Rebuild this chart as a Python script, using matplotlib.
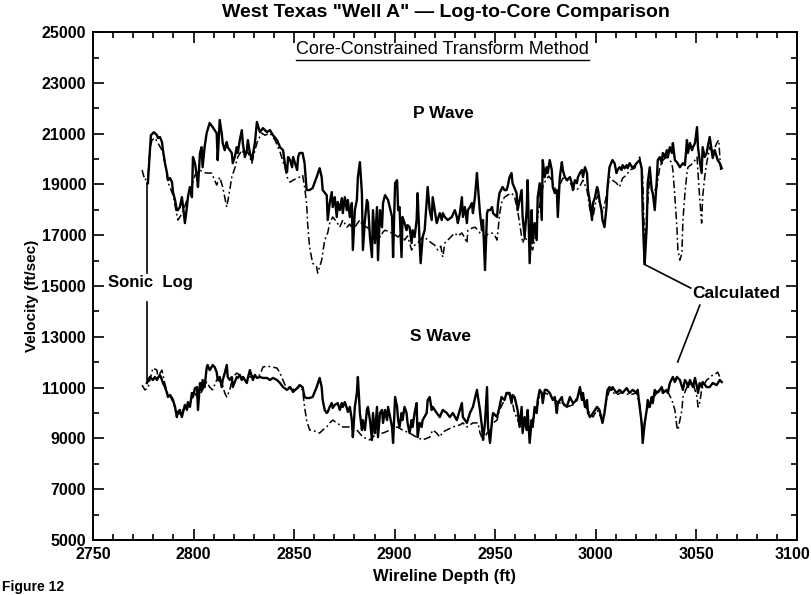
import matplotlib
matplotlib.use('Agg')
import matplotlib.pyplot as plt
import matplotlib.transforms as mtransforms
from matplotlib.ticker import MultipleLocator
from matplotlib.lines import Line2D

plt.rcParams['font.family'] = ['Liberation Sans', 'DejaVu Sans']
plt.rcParams['font.weight'] = 'bold'

# P wave, sonic log (depth ft, velocity ft/sec)
p_sonic_depth = [2777.3, 2778.8, 2780.3, 2781.8, 2782.3, 2783.3, 2784.3, 2784.8, 2785.8, 2786.8,
                 2787.3, 2788.3, 2789.3, 2789.8, 2790.8, 2791.7, 2792.2, 2793.2, 2794.2, 2794.7,
                 2795.7, 2796.7, 2797.2, 2798.2, 2799.2, 2799.7, 2800.7, 2801.7, 2802.2, 2803.2,
                 2804.0, 2804.5, 2805.5, 2806.5, 2808.0, 2809.5, 2811.5, 2812.0, 2813.0, 2814.0,
                 2814.5, 2815.5, 2816.5, 2817.0, 2819.0, 2819.5, 2820.5, 2821.5, 2822.0, 2823.0,
                 2824.0, 2824.5, 2825.5, 2826.5, 2827.0, 2828.0, 2829.0, 2830.5, 2831.5, 2833.0,
                 2834.5, 2836.5, 2838.0, 2839.5, 2841.5, 2843.0, 2844.5, 2845.5, 2846.5, 2847.0,
                 2848.0, 2849.0, 2849.5, 2851.5, 2852.0, 2852.7, 2854.2, 2855.2, 2856.2, 2857.7,
                 2859.2, 2861.2, 2862.7, 2863.7, 2864.2, 2866.2, 2866.7, 2867.7, 2868.7, 2869.2,
                 2870.2, 2871.2, 2871.7, 2872.7, 2873.7, 2874.2, 2875.2, 2876.2, 2876.7, 2877.7,
                 2878.7, 2879.2, 2880.2, 2881.2, 2881.7, 2882.7, 2883.7, 2884.2, 2885.2, 2886.2,
                 2886.7, 2887.7, 2888.7, 2889.2, 2890.2, 2891.2, 2891.7, 2892.7, 2893.7, 2894.2,
                 2895.2, 2896.7, 2898.7, 2899.2, 2900.2, 2901.2, 2901.7, 2902.4, 2903.4, 2903.9,
                 2904.9, 2905.9, 2906.4, 2907.4, 2908.4, 2908.9, 2909.9, 2910.9, 2911.4, 2912.4,
                 2912.9, 2913.9, 2914.9, 2916.4, 2917.4, 2918.4, 2918.9, 2919.9, 2920.9, 2922.4,
                 2923.4, 2923.9, 2924.9, 2926.4, 2928.4, 2929.9, 2930.9, 2931.4, 2932.4, 2933.4,
                 2933.9, 2934.9, 2935.9, 2936.4, 2937.4, 2938.4, 2938.9, 2939.9, 2940.9, 2941.4,
                 2942.4, 2943.4, 2943.9, 2944.9, 2945.9, 2946.4, 2947.4, 2948.4, 2948.9, 2950.9,
                 2951.4, 2952.1, 2953.6, 2954.6, 2955.6, 2956.1, 2957.1, 2958.1, 2958.6, 2960.6,
                 2961.1, 2963.1, 2963.6, 2964.6, 2965.6, 2966.1, 2967.1, 2968.1, 2968.6, 2969.6,
                 2970.6, 2971.1, 2972.1, 2973.1, 2973.6, 2974.6, 2975.6, 2976.1, 2977.1, 2978.1,
                 2978.6, 2979.6, 2980.6, 2981.1, 2982.1, 2983.1, 2983.6, 2984.6, 2985.6, 2987.1,
                 2988.1, 2988.6, 2989.6, 2990.6, 2991.1, 2992.1, 2993.1, 2993.6, 2994.6, 2995.6,
                 2996.1, 2997.1, 2998.1, 2998.6, 2999.6, 3000.6, 3001.1, 3001.8, 3002.8, 3003.3,
                 3004.3, 3005.3, 3005.8, 3006.8, 3007.8, 3008.3, 3009.3, 3010.3, 3010.8, 3011.8,
                 3012.8, 3013.3, 3014.3, 3015.3, 3015.8, 3016.8, 3018.3, 3020.3, 3021.8, 3022.8,
                 3023.3, 3023.8, 3024.3, 3025.3, 3025.8, 3026.8, 3027.8, 3028.3, 3029.3, 3030.3,
                 3030.8, 3031.8, 3032.8, 3033.3, 3034.3, 3035.3, 3035.8, 3036.8, 3037.8, 3038.3,
                 3039.3, 3040.3, 3041.8, 3043.3, 3044.3, 3045.3, 3045.8, 3046.8, 3047.8, 3048.3,
                 3049.3, 3050.3, 3050.8, 3051.6, 3052.6, 3053.1, 3054.1, 3055.1, 3055.6, 3056.6,
                 3057.6, 3058.1, 3059.1, 3060.1, 3060.6, 3061.6, 3062.6]
p_sonic_vel = [19050, 20940, 21060, 20940, 20830, 20870, 20670, 20350, 19840, 19450,
               19170, 19250, 19090, 18700, 18390, 17990, 17990, 18110, 18500, 18190,
               17480, 18110, 18500, 18900, 18500, 20080, 19840, 19290, 18900, 20240,
               20470, 19680, 20470, 21020, 21420, 21260, 21020, 19960, 21540, 21020,
               20630, 20350, 20670, 20470, 20240, 19840, 20080, 20470, 20240, 20750,
               21140, 20630, 20080, 20350, 20750, 20240, 19960, 20630, 21460, 21060,
               21220, 21060, 21140, 20940, 20750, 20470, 20350, 19760, 19490, 20080,
               19960, 19680, 20080, 19570, 20080, 20240, 20240, 19840, 18780, 18780,
               18860, 19290, 19640, 19290, 18780, 18580, 17600, 18270, 18700, 18110,
               18500, 17720, 18310, 17990, 18460, 17870, 18500, 17990, 18390, 17720,
               18270, 16420, 17990, 18390, 19290, 19880, 18660, 16420, 17600, 18390,
               18270, 16930, 16140, 17990, 16690, 18110, 16020, 17990, 17320, 18270,
               18580, 18390, 17720, 16140, 19050, 19170, 17990, 18110, 16140, 17720,
               17480, 17200, 17400, 17320, 16690, 17200, 16930, 17600, 18660, 16690,
               15900, 16930, 17200, 18900, 17990, 17600, 18500, 17990, 17480, 17870,
               17600, 17870, 17720, 17600, 17720, 17990, 17720, 17480, 17870, 18500,
               17720, 18110, 17480, 17990, 18110, 18270, 17870, 18500, 19450, 18900,
               17870, 17200, 17600, 15630, 17870, 17990, 17990, 18110, 17870, 17720,
               18270, 18660, 18900, 18780, 18780, 18900, 19290, 19450, 19050, 18660,
               17990, 18780, 17720, 16930, 17990, 19170, 15900, 17990, 16690, 17480,
               16810, 18500, 19050, 17600, 19960, 19290, 19680, 19450, 19960, 19570,
               18900, 18660, 18780, 17720, 19290, 19880, 19570, 19290, 19170, 19290,
               19050, 18780, 19170, 19050, 19290, 19450, 19570, 19290, 19680, 19450,
               18780, 18270, 17600, 18270, 18500, 18900, 18780, 18390, 17990, 17600,
               17320, 18110, 18900, 19680, 19880, 19960, 19840, 19450, 19570, 19680,
               19570, 19760, 19640, 19760, 19640, 19840, 19640, 19840, 19960, 19640,
               17870, 16690, 15900, 17320, 19050, 19680, 18780, 18660, 17990, 19170,
               19960, 20080, 19840, 20240, 20080, 20350, 20080, 20470, 20240, 20630,
               19960, 19880, 19680, 19840, 19760, 20750, 20240, 20630, 20350, 20470,
               20630, 21260, 20470, 19960, 19450, 20470, 20080, 20240, 20470, 20870,
               20350, 20040, 20350, 20080, 19960, 19840, 19640]

# P wave, calculated
p_calc_depth = [2774.4, 2775.8, 2777.3, 2778.3, 2779.3, 2780.8, 2782.3, 2784.8, 2787.3, 2789.8,
                2792.2, 2794.7, 2796.7, 2798.2, 2800.7, 2803.2, 2804.5, 2806.5, 2809.0, 2810.5,
                2811.5, 2813.0, 2814.5, 2815.5, 2816.5, 2818.0, 2819.0, 2820.5, 2822.0, 2824.0,
                2825.5, 2827.0, 2829.0, 2830.5, 2832.0, 2834.0, 2835.5, 2838.0, 2840.5, 2843.0,
                2845.5, 2846.5, 2848.0, 2849.5, 2851.5, 2852.7, 2854.2, 2855.2, 2856.2, 2856.7,
                2857.7, 2859.2, 2861.2, 2861.7, 2863.7, 2865.2, 2866.7, 2867.7, 2869.2, 2871.2,
                2872.7, 2874.2, 2876.2, 2877.7, 2879.2, 2881.2, 2882.7, 2884.2, 2886.2, 2887.7,
                2889.2, 2891.2, 2892.7, 2894.2, 2895.2, 2897.7, 2900.2, 2901.7, 2903.4, 2904.9,
                2906.4, 2908.4, 2909.9, 2911.4, 2913.4, 2914.9, 2916.4, 2918.4, 2919.9, 2921.4,
                2922.9, 2923.9, 2924.9, 2926.4, 2928.4, 2929.9, 2931.4, 2933.4, 2934.9, 2935.9,
                2936.4, 2938.4, 2939.9, 2941.4, 2942.4, 2943.9, 2944.9, 2946.4, 2948.4, 2949.9,
                2950.9, 2951.4, 2952.1, 2953.1, 2954.6, 2956.1, 2958.1, 2959.6, 2961.1, 2962.1,
                2963.6, 2964.6, 2966.1, 2967.1, 2968.6, 2970.1, 2971.1, 2972.6, 2973.6, 2975.1,
                2976.6, 2978.1, 2979.6, 2980.6, 2982.1, 2983.6, 2985.6, 2987.1, 2988.6, 2990.6,
                2992.1, 2993.6, 2995.6, 2997.1, 2998.6, 3000.1, 3001.1, 3001.8, 3003.3, 3004.3,
                3005.3, 3006.8, 3008.3, 3010.3, 3011.8, 3013.3, 3015.3, 3016.8, 3019.3, 3021.8,
                3023.3, 3024.3, 3025.3, 3026.8, 3028.3, 3030.3, 3031.8, 3033.3, 3035.3, 3036.8,
                3037.8, 3038.3, 3039.3, 3040.3, 3040.8, 3041.8, 3042.8, 3043.3, 3044.3, 3045.3,
                3045.8, 3048.3, 3050.3, 3050.8, 3051.6, 3052.6, 3053.1, 3054.1, 3055.1, 3056.6,
                3058.1, 3060.1, 3061.1, 3062.1]
p_calc_vel = [19570, 19170, 19290, 20350, 20750, 20830, 20630, 20280, 19090, 18580,
              17600, 17910, 18390, 18700, 19370, 19570, 19490, 19450, 19450, 19170,
              18980, 19290, 18900, 18500, 18110, 18780, 19290, 19640, 20080, 20350,
              20160, 20280, 19840, 20350, 20750, 21020, 20940, 21020, 20750, 20280,
              19640, 19290, 19090, 19170, 19250, 19290, 19370, 18900, 18270, 17480,
              16530, 15900, 15750, 15510, 16020, 16810, 17090, 17480, 17720, 17520,
              17320, 17600, 17320, 17440, 17200, 17440, 17600, 17360, 17320, 17200,
              17090, 17280, 16930, 17130, 17200, 17130, 17010, 16930, 17090, 16810,
              16970, 16420, 16610, 16690, 16890, 16930, 16810, 16690, 16610, 16420,
              16570, 16140, 16690, 16810, 16970, 17090, 16970, 17090, 16890, 16690,
              17200, 17280, 17320, 17200, 17090, 17010, 16930, 17050, 17090, 16970,
              16810, 17200, 17800, 18270, 18500, 18580, 18660, 18500, 17990, 17480,
              16690, 16890, 16810, 16610, 16420, 17010, 17800, 18390, 18900, 19170,
              19330, 19170, 18860, 18660, 18980, 19250, 19170, 19090, 18860, 18780,
              18940, 19170, 18780, 17990, 17720, 18390, 18580, 18270, 17910, 18190,
              18580, 19290, 19170, 19050, 18900, 19250, 19370, 19570, 19640, 20080,
              19290, 16420, 17800, 19290, 18660, 18900, 19680, 19960, 20080, 19960,
              19840, 19570, 18500, 17320, 16420, 16020, 16300, 17600, 18660, 19450,
              19680, 19840, 20080, 19450, 18500, 17480, 18500, 19290, 19840, 20470,
              20240, 20630, 20750, 19570]

# S wave, sonic log
s_sonic_depth = [2776.8, 2778.3, 2779.8, 2780.8, 2781.8, 2782.3, 2783.3, 2784.3, 2784.8, 2785.8,
                 2786.8, 2787.3, 2788.3, 2789.3, 2789.8, 2790.8, 2791.7, 2792.2, 2793.2, 2794.2,
                 2794.7, 2795.7, 2796.7, 2797.2, 2798.2, 2799.2, 2799.7, 2800.7, 2801.7, 2802.2,
                 2803.2, 2804.0, 2804.5, 2805.5, 2806.5, 2807.0, 2808.0, 2809.0, 2809.5, 2810.5,
                 2811.5, 2812.0, 2813.0, 2814.0, 2814.5, 2815.5, 2816.5, 2817.0, 2818.0, 2819.0,
                 2819.5, 2820.5, 2821.5, 2822.0, 2823.0, 2824.0, 2824.5, 2826.5, 2827.0, 2828.0,
                 2829.0, 2829.5, 2830.5, 2831.5, 2833.0, 2834.5, 2836.5, 2838.0, 2839.5, 2841.5,
                 2843.0, 2844.5, 2846.5, 2848.0, 2849.5, 2851.5, 2852.7, 2854.2, 2855.2, 2856.2,
                 2857.7, 2859.2, 2861.2, 2862.7, 2863.7, 2864.2, 2865.2, 2866.2, 2866.7, 2867.7,
                 2868.7, 2869.2, 2870.2, 2871.7, 2872.7, 2873.7, 2874.2, 2875.2, 2876.2, 2876.7,
                 2877.7, 2878.7, 2879.2, 2880.2, 2881.2, 2881.7, 2882.7, 2883.7, 2884.2, 2885.2,
                 2886.2, 2886.7, 2887.7, 2888.7, 2889.2, 2890.2, 2891.2, 2891.7, 2892.7, 2893.7,
                 2894.2, 2895.2, 2896.2, 2896.7, 2897.7, 2898.7, 2899.2, 2900.2, 2901.2, 2901.7,
                 2902.4, 2903.4, 2903.9, 2904.9, 2905.9, 2906.4, 2907.4, 2908.4, 2908.9, 2909.9,
                 2910.9, 2911.4, 2912.4, 2913.4, 2913.9, 2915.9, 2916.4, 2917.4, 2918.4, 2918.9,
                 2920.9, 2922.4, 2923.9, 2925.9, 2927.4, 2928.9, 2930.9, 2932.4, 2933.4, 2933.9,
                 2935.9, 2937.4, 2938.9, 2940.9, 2941.4, 2942.4, 2943.4, 2943.9, 2944.9, 2945.9,
                 2946.4, 2947.4, 2948.4, 2948.9, 2950.9, 2952.1, 2953.1, 2954.6, 2955.6, 2957.1,
                 2958.1, 2958.6, 2959.6, 2961.1, 2962.1, 2963.1, 2963.6, 2964.6, 2965.6, 2966.1,
                 2967.1, 2968.1, 2968.6, 2969.6, 2970.6, 2971.1, 2972.1, 2973.1, 2973.6, 2974.6,
                 2975.6, 2977.1, 2978.6, 2979.6, 2980.6, 2981.1, 2982.1, 2983.1, 2983.6, 2985.6,
                 2987.1, 2988.6, 2990.6, 2992.1, 2993.1, 2993.6, 2994.6, 2995.6, 2996.1, 2997.1,
                 2998.6, 3000.6, 3001.8, 3003.3, 3004.3, 3005.3, 3005.8, 3006.8, 3007.8, 3008.3,
                 3010.3, 3011.8, 3013.3, 3015.3, 3016.8, 3018.3, 3020.3, 3020.8, 3021.8, 3022.8,
                 3023.3, 3024.3, 3025.3, 3025.8, 3026.8, 3027.8, 3028.3, 3029.3, 3030.3, 3031.8,
                 3032.8, 3033.3, 3035.3, 3035.8, 3036.8, 3038.3, 3039.3, 3040.3, 3041.8, 3043.3,
                 3044.3, 3045.3, 3045.8, 3046.8, 3048.3, 3049.3, 3050.3, 3050.8, 3051.6, 3052.6,
                 3053.1, 3055.1, 3056.6, 3058.1, 3060.1, 3061.6, 3062.6]
s_sonic_vel = [11180, 11420, 11300, 11420, 11300, 11380, 11500, 11300, 11180, 11020,
               10790, 10630, 10710, 10590, 10510, 10240, 9840, 10040, 10120, 9840,
               10000, 10320, 10120, 10430, 10240, 10790, 10630, 10980, 11020, 10120,
               11180, 10910, 11300, 11020, 11770, 11890, 11690, 11810, 11890, 11810,
               11610, 11300, 11420, 11020, 11300, 11570, 11890, 11420, 11300, 11420,
               11020, 11220, 11420, 11380, 11500, 11300, 11420, 11180, 11380, 11690,
               11420, 11300, 11500, 11380, 11420, 11380, 11380, 11300, 11380, 11300,
               11180, 11020, 10910, 11020, 10830, 10980, 11100, 11020, 10630, 10590,
               10590, 10630, 11020, 11380, 11020, 10510, 10120, 10000, 10040, 10240,
               10390, 10200, 10320, 10390, 10120, 10390, 10240, 10430, 10200, 10040,
               10240, 9720, 9050, 10240, 10790, 11420, 10000, 9330, 9720, 9330,
               10120, 10240, 9720, 8940, 10000, 9210, 10240, 9050, 10000, 10120,
               9610, 10120, 9720, 10240, 9840, 9450, 8820, 10630, 10240, 9720,
               9450, 10000, 9720, 10240, 10000, 9610, 9210, 9720, 9450, 10000,
               10390, 9050, 9610, 9450, 9720, 10000, 10510, 10630, 10120, 10240,
               10000, 9840, 10120, 10000, 9840, 10000, 9720, 10120, 10390, 9840,
               9610, 10000, 10240, 10910, 10630, 10120, 9450, 8940, 9610, 11020,
               9450, 8820, 9720, 10000, 9840, 10240, 10630, 10510, 10790, 10790,
               10390, 10710, 10630, 10120, 9450, 10240, 9210, 9840, 9330, 10120,
               8820, 9720, 9450, 10240, 10000, 10510, 10910, 10790, 10390, 10910,
               10910, 10790, 10510, 10630, 10000, 10390, 10510, 10630, 10390, 10240,
               10630, 10390, 10510, 11020, 10510, 10790, 10240, 10510, 10000, 9840,
               10000, 10240, 10120, 9610, 10000, 10630, 10910, 11020, 10910, 11020,
               10790, 10910, 10790, 10980, 10790, 10910, 10790, 10910, 10240, 9610,
               8820, 9610, 10120, 10510, 10240, 10630, 10390, 10910, 10790, 10910,
               11020, 10790, 10910, 10790, 11180, 11420, 11220, 11420, 11300, 10910,
               11300, 11180, 11020, 11300, 11020, 11380, 11020, 10790, 11180, 11020,
               11220, 11020, 11020, 11180, 11100, 11300, 11220]

# S wave, calculated
s_calc_depth = [2774.4, 2775.8, 2777.3, 2778.3, 2779.8, 2781.8, 2782.3, 2783.3, 2784.3, 2785.3,
                2786.8, 2788.3, 2789.8, 2791.3, 2792.7, 2794.7, 2796.7, 2798.2, 2800.2, 2802.2,
                2804.5, 2806.5, 2808.0, 2809.5, 2811.5, 2814.0, 2815.5, 2816.5, 2818.0, 2819.5,
                2821.5, 2823.0, 2825.5, 2828.0, 2830.5, 2833.0, 2834.5, 2836.5, 2839.0, 2841.5,
                2843.0, 2845.5, 2848.0, 2850.5, 2852.7, 2854.2, 2855.2, 2856.2, 2857.7, 2859.2,
                2861.2, 2862.7, 2864.2, 2866.2, 2867.7, 2869.2, 2871.2, 2874.2, 2877.7, 2881.2,
                2884.2, 2887.7, 2891.2, 2894.2, 2897.7, 2901.2, 2903.9, 2907.4, 2910.9, 2913.9,
                2917.4, 2918.9, 2920.9, 2922.4, 2923.9, 2925.9, 2928.9, 2932.4, 2933.9, 2935.9,
                2938.9, 2941.4, 2942.4, 2943.9, 2945.9, 2947.4, 2948.9, 2950.9, 2952.1, 2954.6,
                2955.6, 2957.1, 2958.6, 2959.6, 2960.6, 2962.1, 2963.6, 2965.6, 2967.1, 2968.6,
                2970.6, 2972.1, 2974.6, 2977.1, 2979.6, 2982.1, 2985.6, 2988.6, 2992.1, 2995.6,
                2997.1, 2998.6, 3000.6, 3003.3, 3005.3, 3006.8, 3010.3, 3013.3, 3016.8, 3020.3,
                3021.8, 3023.3, 3024.3, 3025.3, 3027.8, 3030.3, 3033.3, 3035.8, 3037.8, 3039.3,
                3040.3, 3040.8, 3041.8, 3042.8, 3043.3, 3045.3, 3048.3, 3050.3, 3050.8, 3051.6,
                3052.6, 3053.1, 3055.1, 3056.6, 3058.1, 3060.1, 3060.6, 3061.6]
s_calc_vel = [11100, 10910, 10980, 11300, 11770, 11690, 11380, 11570, 11690, 11300,
              10830, 10670, 10430, 10040, 9960, 10120, 10200, 10350, 10830, 10590,
              10910, 11220, 11020, 10910, 11300, 11220, 10790, 10630, 10910, 11420,
              11570, 11500, 11380, 11420, 11460, 11500, 11810, 11850, 11810, 11770,
              11570, 11100, 10980, 10910, 11020, 10910, 10240, 9720, 9330, 9330,
              9250, 9210, 9330, 9450, 9610, 9720, 9610, 9450, 9450, 9330,
              9050, 8940, 9210, 9210, 9330, 9450, 9330, 9210, 9050, 8940,
              9050, 9330, 9210, 9050, 9250, 9330, 9450, 9530, 9610, 9450,
              9610, 9610, 9210, 8940, 9210, 9330, 9610, 9720, 10120, 10510,
              10790, 10710, 10390, 10000, 9840, 9530, 9330, 9530, 9330, 9720,
              10120, 10710, 10790, 10710, 10510, 10390, 10240, 10320, 10830, 10120,
              10000, 9840, 10120, 9720, 10510, 10910, 10710, 10830, 10710, 10790,
              10320, 9050, 9610, 10120, 10510, 10790, 10910, 10830, 10510, 10120,
              9450, 9330, 9720, 10120, 10630, 11020, 11180, 10630, 10240, 10390,
              10910, 11020, 11300, 11380, 11500, 11570, 11610, 11420]

x_ticks = [2750, 2800, 2850, 2900, 2950, 3000, 3050, 3100]
y_ticks = [5000, 7000, 9000, 11000, 13000, 15000, 17000, 19000, 21000, 23000, 25000]

fig = plt.figure(figsize=(8.12, 5.95), dpi=100)
ax = fig.add_axes([0.1145, 0.0925, 0.867, 0.8535])

dashdot = (0, (5, 2, 1.2, 2))
ax.plot(p_calc_depth, p_calc_vel, color='black', lw=1.1, ls=dashdot)
ax.plot(s_calc_depth, s_calc_vel, color='black', lw=1.1, ls=dashdot)
ax.plot(p_sonic_depth, p_sonic_vel, color='black', lw=1.7)
ax.plot(s_sonic_depth, s_sonic_vel, color='black', lw=1.7)

ax.set_xlim(2750, 3100)
ax.set_ylim(5000, 25000)
ax.set_xticks(x_ticks)
ax.set_yticks(y_ticks)
ax.xaxis.set_minor_locator(MultipleLocator(10))
ax.yaxis.set_minor_locator(MultipleLocator(1000))
ax.tick_params(which='both', direction='in', top=True, right=True, width=1.2,
               labelsize=11.5, pad=5)
ax.tick_params(which='major', length=8)
ax.tick_params(which='minor', length=4)
for s in ax.spines.values():
    s.set_linewidth(1.4)

# keep the last depth label inside the figure edge
last = ax.get_xticklabels()[-1]
last.set_horizontalalignment('right')
last.set_transform(last.get_transform() +
                   mtransforms.ScaledTranslation(13 / 100, 0, fig.dpi_scale_trans))

ax.set_xlabel('Wireline Depth (ft)', fontsize=12, fontweight='bold', labelpad=5)
ax.set_ylabel('Velocity (ft/sec)', fontsize=11, fontweight='bold')
ax.yaxis.set_label_coords(-0.077, 0.48)

fig.text(0.549, 0.979, 'West Texas "Well A" \u2014 Log-to-Core Comparison',
         ha='center', va='center', fontsize=14, fontweight='bold')
sub = ax.text(0.497, 0.982, 'Core-Constrained Transform Method', transform=ax.transAxes,
              ha='center', va='top', fontsize=13, fontweight='normal')

# wave labels
ax.text(2924, 21800, 'P Wave', ha='center', va='center', fontsize=12.5, fontweight='bold')
ax.text(2923, 13000, 'S Wave', ha='center', va='center', fontsize=12.5, fontweight='bold')

# pointer labels
ax.text(2757.5, 15120, 'Sonic  Log', ha='left', va='center', fontsize=12, fontweight='bold')
ax.plot([2776.8, 2776.8], [15510, 19050], color='black', lw=1.2)
ax.plot([2776.8, 2776.8], [14370, 11180], color='black', lw=1.2)
ax.text(3070, 14720, 'Calculated', ha='center', va='center', fontsize=12.5, fontweight='bold')
ax.plot([3047.2, 3024.0], [14920, 15860], color='black', lw=1.2)
ax.plot([3051.7, 3040.7], [14250, 12010], color='black', lw=1.2)

fig.text(0.002, 0.001, 'Figure 12', ha='left', va='bottom', fontsize=10, fontweight='bold')

# underline for the subtitle
fig.canvas.draw()
bb = sub.get_window_extent()
fw, fh = fig.bbox.width, fig.bbox.height
fig.add_artist(Line2D([bb.x0 / fw, bb.x1 / fw], [(bb.y0 - 1.5) / fh] * 2,
                      color='black', lw=1.0))

fig.savefig('out.png', dpi=100)
